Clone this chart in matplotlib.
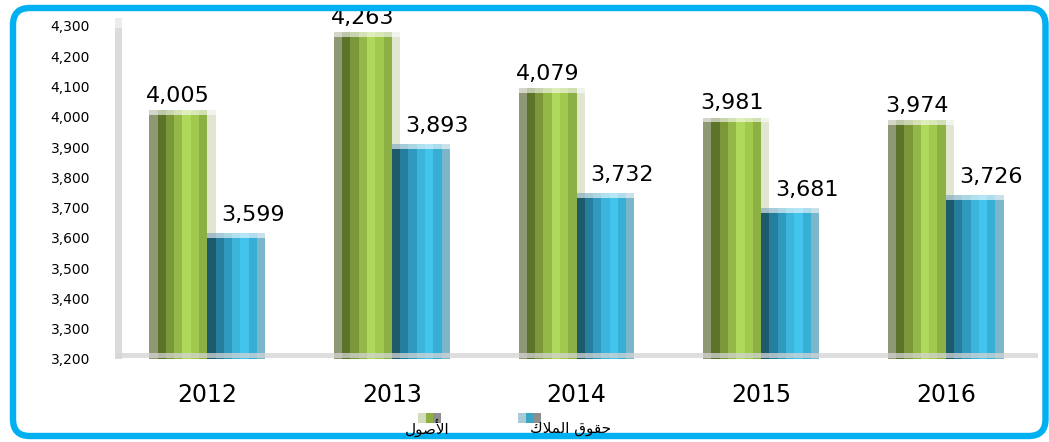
import matplotlib
matplotlib.use('Agg')
import matplotlib.pyplot as plt
import numpy as np
from matplotlib.patches import FancyBboxPatch, Rectangle

# data
years = ['2012', '2013', '2014', '2015', '2016']
assets = [4005, 4263, 4079, 3981, 3974]   # الأصول
equity = [3599, 3893, 3732, 3681, 3726]   # حقوق الملاك
y_ticks = list(range(3200, 4301, 100))
y_tick_labels = [f'{v:,}' for v in y_ticks]

# Arabic legend labels, pre-shaped (presentation forms, visual order)
label_assets = '\uFEDD\uFEEE\uFEBB\uFEF7\uFE8D'
label_equity = '\uFED9\uFEFC\uFEE4\uFEDF\uFE8D \uFED5\uFEEE\uFED8\uFEA3'

# cylinder-ish stripe colours, left to right
green_edge = '#8f9874'
green_stripes = ['#5c742a', '#7b9838', '#94b848', '#aed95a', '#a0c94e', '#8db045']
green_right = '#e0e6cf'
blue_stripes = ['#1d5a6c', '#257e9e', '#3099bd', '#3bb5dc', '#42c4ec', '#37afd4']
blue_edge = '#7bb6ca'

W, H = 1049, 442
fig = plt.figure(figsize=(W / 100, H / 100), dpi=100)
fig.patch.set_facecolor('white')

ax = fig.add_axes([115 / W, (H - 359) / H, 923 / W, 341 / H])
ax.set_xlim(-0.5, 4.5)
ax.set_ylim(3200, 4326)

x = np.arange(len(years))
w = 0.314 / 7
cap = 16
a = np.array(assets)
e = np.array(equity)

# back wall
ax.add_patch(Rectangle((0, 0), 0.0076, 1, transform=ax.transAxes,
                       color='#dcdcdc', lw=0, zorder=0))
ax.add_patch(Rectangle((0, 0.97), 0.0076, 0.03, transform=ax.transAxes,
                       color='#ececec', lw=0, zorder=0))

# green series
ax.bar(x - 7 * w, a + cap, width=w, align='edge', color=green_edge, lw=0, zorder=2)
for i, c in enumerate(green_stripes):
    ax.bar(x + (i - 6) * w, a + cap, width=w, align='edge', color=c, lw=0, zorder=2)
ax.bar(x, a + cap, width=w, align='edge', color=green_right, lw=0, zorder=1)
ax.bar(x - 7 * w, [cap] * len(x), bottom=a, width=8 * w, align='edge',
       color='white', alpha=0.6, lw=0, zorder=3)

# blue series
for i, c in enumerate(blue_stripes):
    ax.bar(x + i * w, e + cap, width=w, align='edge', color=c, lw=0, zorder=4)
ax.bar(x + 6 * w, e + cap, width=w, align='edge', color=blue_edge, lw=0, zorder=4)
ax.bar(x, [cap] * len(x), bottom=e, width=7 * w, align='edge',
       color='white', alpha=0.6, lw=0, zorder=5)

# floor band over the bars
ax.add_patch(Rectangle((0, 0.003), 1, 0.015, transform=ax.transAxes,
                       color='#d4d4d4', alpha=0.75, lw=0, zorder=6))

# data labels
for xi, v in zip(x, assets):
    ax.annotate(f'{v:,}', (xi - 3.5 * w, v + cap), xytext=(0, 3),
                textcoords='offset points', ha='center', va='bottom',
                fontsize=16, color='black', zorder=7)
for xi, v in zip(x, equity):
    ax.annotate(f'{v:,}', (xi + 3.5 * w + 0.09, v + cap), xytext=(0, 6),
                textcoords='offset points', ha='center', va='bottom',
                fontsize=16, color='black', zorder=7)

ax.set_yticks(y_ticks)
ax.set_yticklabels(y_tick_labels, fontsize=10)
ax.set_xticks(x)
ax.set_xticklabels(years, fontsize=17)
ax.tick_params(axis='y', length=0, pad=18)
ax.tick_params(axis='x', length=0, pad=17)
for s in ax.spines.values():
    s.set_visible(False)

# legend (hand placed, like the original)
def legend_swatch(x0, colors):
    sw = 23 / 3
    for i, c in enumerate(colors):
        fig.add_artist(Rectangle(((x0 + i * sw) / W, (H - 423) / H), sw / W, 10 / H,
                                 transform=fig.transFigure, color=c, lw=0))

legend_swatch(418, ['#d3dcbc', '#8db045', '#8e8e8e'])
legend_swatch(518, ['#a9cbd6', '#3aa5c6', '#8e8e8e'])
fig.text(427 / W, (H - 428) / H, label_assets, ha='center', va='center',
         fontsize=11, family=['DejaVu Sans'])
fig.text(570 / W, (H - 428) / H, label_equity, ha='center', va='center',
         fontsize=11, family=['DejaVu Sans'])

# rounded frame
frame = FancyBboxPatch((13 / W, 6 / H), (1045.5 - 13) / W, (436 - 8) / H,
                       boxstyle='round,pad=0,rounding_size=0.016',
                       transform=fig.transFigure, fill=False,
                       edgecolor='#00b0f0', lw=4.6, mutation_aspect=W / H)
fig.add_artist(frame)

fig.savefig('out.png', dpi=100)
